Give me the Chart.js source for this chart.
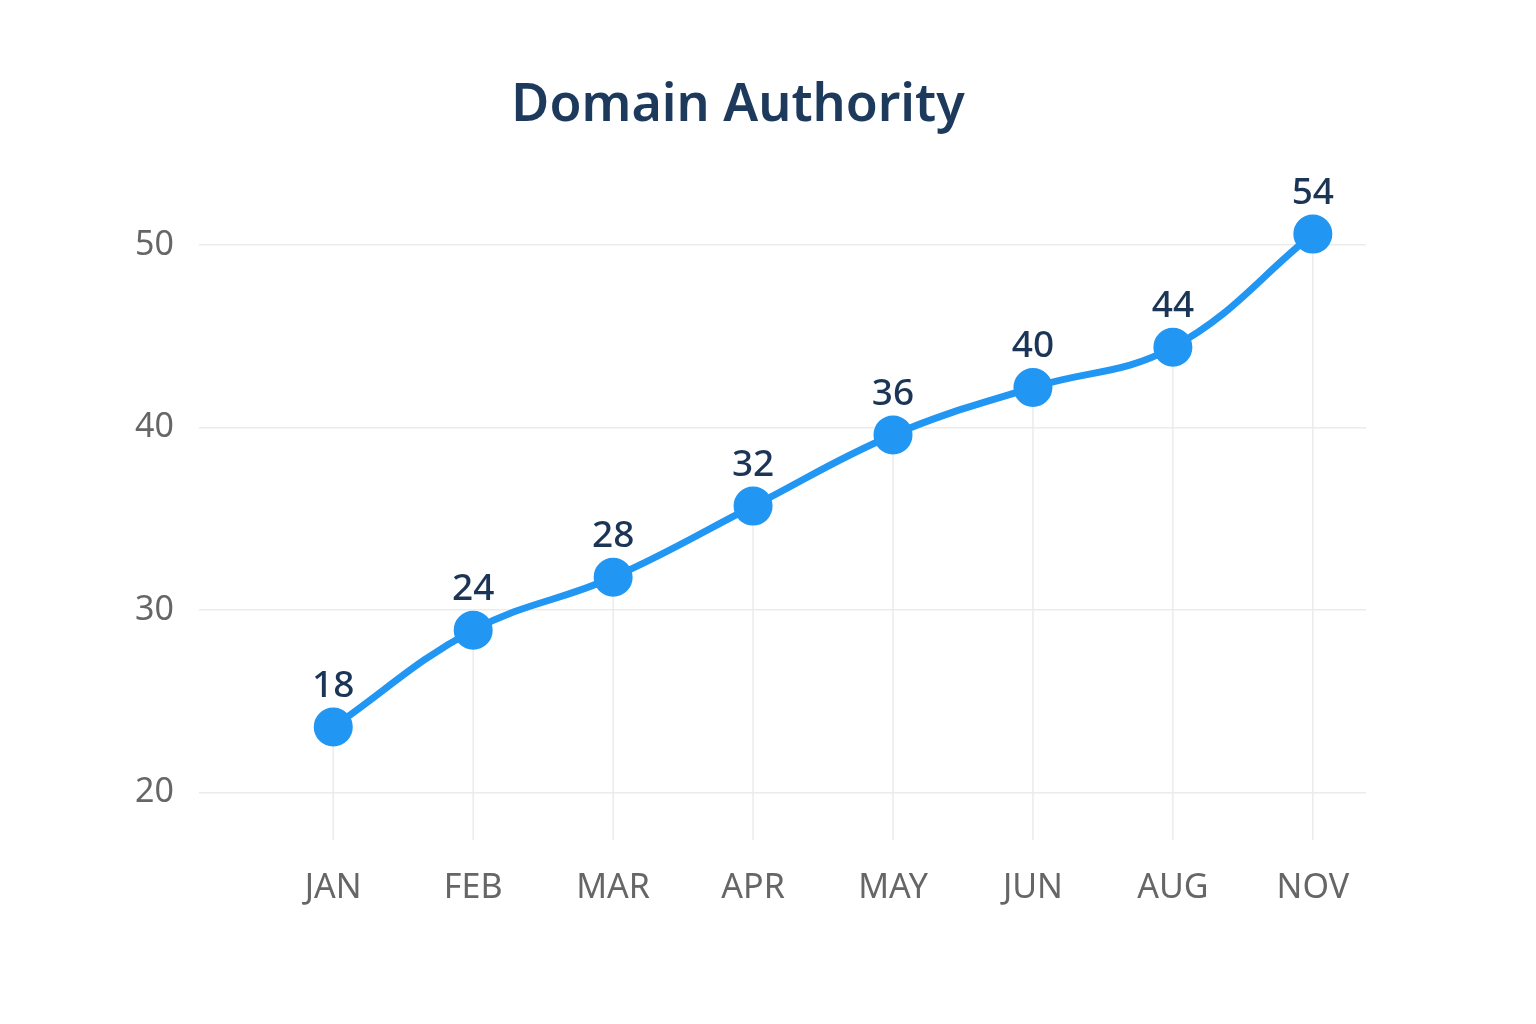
<!DOCTYPE html>
<html><head><meta charset="utf-8">
<script src="https://cdn.jsdelivr.net/npm/chart.js@4"></script>
<style>html,body{margin:0;background:#fff}#w{width:1536px;height:1024px}</style>
</head><body><div id="w"><canvas id="c"></canvas></div>
<script>
const categories=["JAN","FEB","MAR","APR","MAY","JUN","AUG","NOV"];
const plotted=[23.6,28.9,31.8,35.7,39.6,42.2,44.4,50.6];
const pointLabels=["18","24","28","32","36","40","44","54"];
const yTicks=[20,30,40,50];
const font='"Noto Sans", Inter, sans-serif';
const extras={id:'extras',
 beforeDatasetsDraw(ch){const {ctx,scales:{x,y}}=ch;ctx.save();ctx.strokeStyle='#ebebeb';ctx.lineWidth=1.5;
  plotted.forEach((v,i)=>{ctx.beginPath();ctx.moveTo(x.getPixelForValue(i),y.getPixelForValue(v));ctx.lineTo(x.getPixelForValue(i),ch.chartArea.bottom);ctx.stroke();});ctx.restore();},
 afterDatasetsDraw(ch){const {ctx,scales:{x,y}}=ch;ctx.save();ctx.fillStyle='#1b3556';ctx.font='500 37px '+font;ctx.textAlign='center';ctx.textBaseline='alphabetic';
  plotted.forEach((v,i)=>ctx.fillText(pointLabels[i],x.getPixelForValue(i),y.getPixelForValue(v)-30));ctx.restore();}};
new Chart(document.getElementById('c'),{type:'line',
 data:{datasets:[{data:plotted.map((v,i)=>({x:i,y:v})),borderColor:'#2196f3',backgroundColor:'#2196f3',borderWidth:7,pointRadius:16,pointHoverRadius:16,tension:0.4}]},
 options:{responsive:true,maintainAspectRatio:false,animation:false,
  layout:{padding:{left:110,right:170,top:65,bottom:95}},
  plugins:{legend:{display:false},tooltip:{enabled:false},
   title:{display:true,text:'Domain Authority',color:'#1d3a5c',font:{family:font,size:52,weight:'600'},padding:{top:10,bottom:62}}},
  scales:{
   x:{type:'linear',min:-0.903,max:7.38,grid:{display:false},border:{display:false},
     afterBuildTicks(a){a.ticks=categories.map((c,i)=>({value:i}));},
     ticks:{callback:(v)=>categories[v],color:'#666',font:{family:font,size:34},padding:20,maxRotation:0,autoSkip:false}},
   y:{min:17.4,max:52.5,grid:{color:'#ebebeb',lineWidth:1.5},border:{display:false},
     afterBuildTicks(a){a.ticks=yTicks.map(v=>({value:v}));},
     ticks:{color:'#666',font:{family:font,size:34},padding:25}}}},
 plugins:[extras]});
</script></body></html>
